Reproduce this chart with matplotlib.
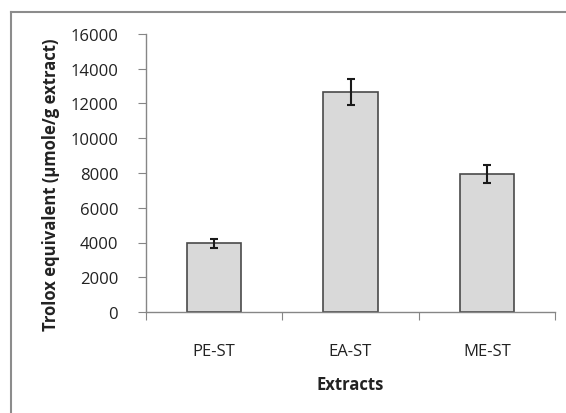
import matplotlib.pyplot as plt
from matplotlib.lines import Line2D

# data
extracts = ["PE-ST", "EA-ST", "ME-ST"]
trolox = [3950, 12650, 7940]
trolox_err = [270, 750, 510]
y_ticks = [0, 2000, 4000, 6000, 8000, 10000, 12000, 14000, 16000]

plt.rcParams['font.family'] = ['Open Sans', 'DejaVu Sans']

fig = plt.figure(figsize=(5.66, 4.14), dpi=100)
ax = fig.add_axes([146 / 566, 1 - 313 / 414, (555 - 146) / 566, (313 - 35) / 414])

x = range(len(extracts))
ax.bar(x, trolox, width=0.4, color="#d9d9d9", edgecolor="#4a4a4a", linewidth=1.2, zorder=2)
ax.errorbar(x, trolox, yerr=trolox_err, fmt="none", ecolor="#1a1a1a",
            elinewidth=1.5, capsize=3, capthick=1.5, zorder=3)

ax.set_xlim(-0.5, 2.5)
ax.set_ylim(0, 16000)
ax.set_yticks(y_ticks)
ax.set_yticklabels([str(v) for v in y_ticks])
ax.set_xticks([-0.5, 0.5, 1.5, 2.5])
ax.set_xticklabels([])
ax.set_xticks(list(x), minor=True)
ax.set_xticklabels(extracts, minor=True)
ax.tick_params(which="both", labelsize=12, labelcolor="#222222")
ax.tick_params(axis="x", which="minor", length=0, pad=22)
ax.tick_params(axis="x", which="major", length=6, direction="out", color="#868686")
ax.tick_params(axis="y", length=6, direction="out", color="#868686", pad=14)

for side in ["top", "right"]:
    ax.spines[side].set_visible(False)
for side in ["left", "bottom"]:
    ax.spines[side].set_color("#868686")
    ax.spines[side].set_linewidth(1.0)

fig.text(51 / 566, 1 - 185 / 414, "Trolox equivalent (µmole/g extract)", rotation=90,
         ha="center", va="center", fontsize=12, fontweight="bold", color="#222222")
fig.text(350 / 566, 1 - 385 / 414, "Extracts", ha="center", va="center",
         fontsize=12, fontweight="bold", color="#222222")

# outer chart frame (top and left edges visible)
fig.add_artist(Line2D([11 / 566, 11 / 566], [0, 1 - 13 / 414], color="#8c8c8c", linewidth=1.5,
                      transform=fig.transFigure))
fig.add_artist(Line2D([11 / 566, 1], [1 - 13 / 414, 1 - 13 / 414], color="#8c8c8c", linewidth=1.5,
                      transform=fig.transFigure))

fig.savefig("out.png", dpi=100)
